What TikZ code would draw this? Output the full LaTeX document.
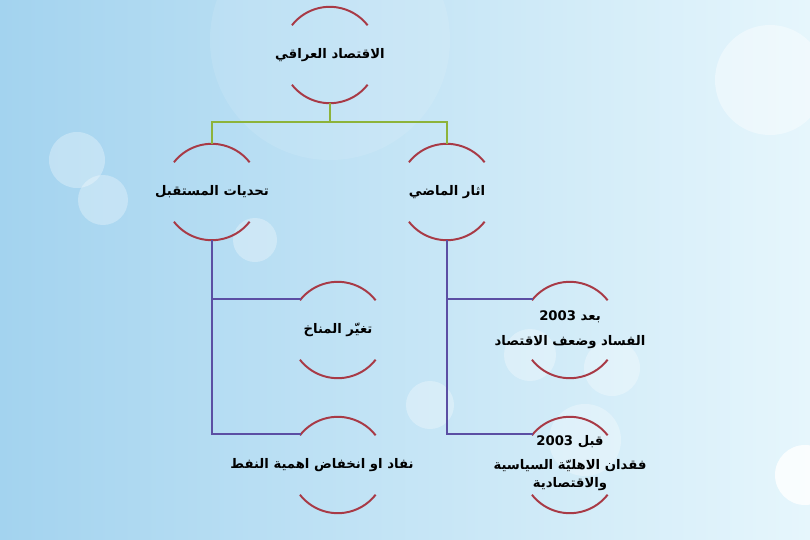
\documentclass[tikz,border=0pt]{standalone}
\usepackage{fontspec}
\TeXXeTstate=1
\newfontfamily\arabicfont[Script=Arabic]{DejaVu Sans}
\definecolor{ringred}{HTML}{A83A46}
\definecolor{stemgreen}{HTML}{8DB33A}
\definecolor{stempurple}{HTML}{5B4EA3}
\definecolor{skyleft}{HTML}{A3D3EF}
\definecolor{skyright}{HTML}{E6F6FC}
\tikzset{
	ring/.style={circle, minimum size=2.4cm, inner sep=0pt},
	caption/.style={align=center, inner sep=1pt, font=\arabicfont\bfseries\fontsize{9.4}{12.5}\selectfont},
	halfring/.style={draw=ringred, line width=1.4pt},
	trunk/.style={draw=stemgreen, line width=1.4pt},
	branch/.style={draw=stempurple, line width=1.4pt},
	bokeh/.style={fill=white, opacity=0.3}
}
\newcommand{\AR}[1]{\beginR #1\endR}
\newcommand{\halfrings}[1]{%
	\draw[halfring] (#1.142) arc[start angle=142, end angle=38, radius=1.2cm];
	\draw[halfring] (#1.218) arc[start angle=218, end angle=322, radius=1.2cm];}
\begin{document}
\begin{tikzpicture}[x=0.025cm, y=0.025cm]
	\shade[left color=skyleft, right color=skyright] (0,0) rectangle (810,-540);
	\useasboundingbox (0,0) rectangle (810,-540);

	\fill[white, opacity=0.1] (330,-40) circle (120);
	\fill[white, opacity=0.4] (770,-80) circle (55);
	\fill[bokeh] (77,-160) circle (28);
	\fill[bokeh] (103,-200) circle (25);
	\fill[bokeh] (255,-240) circle (22);
	\fill[bokeh] (530,-355) circle (26);
	\fill[bokeh] (612,-368) circle (28);
	\fill[bokeh] (585,-440) circle (36);
	\fill[bokeh] (430,-405) circle (24);
	\fill[white, opacity=0.8] (805,-475) circle (30);

	\node[ring] (econ) at (330, -55) {};

	\node[ring] (future) at (212, -192) {};
	\node[ring] (past)   at (447, -192) {};

	\node[ring] (climate) at (338, -330) {};
	\node[ring] (oil)     at (338, -465) {};

	\node[ring] (after)  at (570, -330) {};
	\node[ring] (before) at (570, -465) {};

	\node[caption] (econ-t)    at (econ)    {\AR{الاقتصاد العراقي}};
	\node[caption] (future-t)  at (future)  {\AR{تحديات المستقبل}};
	\node[caption] (past-t)    at (past)    {\AR{اثار الماضي}};
	\node[caption] (climate-t) at (climate) {\AR{تغيّر المناخ}};
	\node[caption] (oil-t)     at (322, -465) {\AR{نفاد او انخفاض اهمية النفط}};
	\node[caption] (after-t)   at (570, -330) {\AR{بعد \beginL 2003\endL}\\[5pt]\AR{الفساد وضعف الاقتصاد}};
	\node[caption] (before-t)  at (570, -463) {\AR{قبل \beginL 2003\endL}\\[5pt]\AR{فقدان الاهليّة السياسية}\\[0pt]\AR{والاقتصادية}};

	\halfrings{econ}
	\halfrings{future}
	\halfrings{past}
	\halfrings{climate}
	\halfrings{oil}
	\halfrings{after}
	\halfrings{before}

	\draw[trunk] (econ.south) -- ++(0,-19) coordinate (fork);
	\draw[trunk] (fork) -| (future.north);
	\draw[trunk] (fork) -| (past.north);

	\draw[branch] (future.south) |- (climate.140);
	\draw[branch] (future.south) |- (oil.140);
	\draw[branch] (past.south) |- (after.140);
	\draw[branch] (past.south) |- (before.140);

\end{tikzpicture}
\end{document}
